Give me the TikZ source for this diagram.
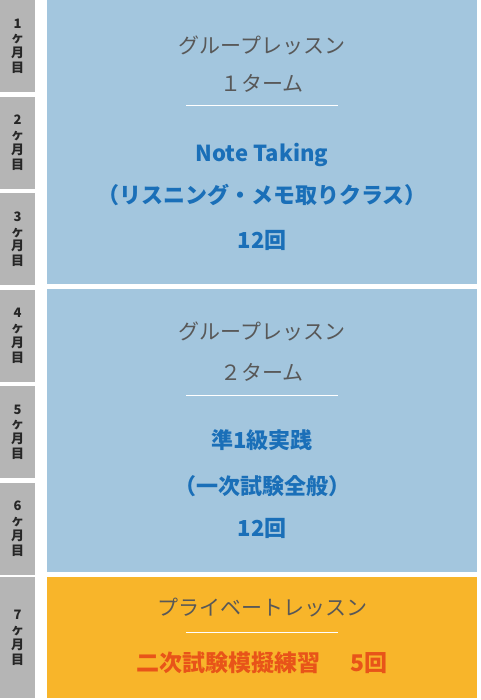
\documentclass[tikz,border=0pt]{standalone}
\usepackage{fontspec}
\setmainfont{Noto Sans CJK JP}
\newfontfamily\jp{Noto Sans CJK JP}
\definecolor{graybox}{HTML}{B5B5B5}
\definecolor{bluebox}{HTML}{A3C6DE}
\definecolor{orangebox}{HTML}{F8B52A}
\definecolor{graytext}{HTML}{585858}
\definecolor{bluetext}{HTML}{1A6FB8}
\definecolor{redtext}{HTML}{E85419}
\tikzset{
  month/.style={fill=graybox, draw=none, minimum width=35pt, inner sep=0pt, anchor=north west,
    label={[font=\jp\bfseries\fontsize{13}{14.8}\selectfont, align=center, text=black!85]center:#1}},
  panel/.style={draw=none, minimum width=430pt, inner sep=0pt, anchor=north west},
  head/.style={font=\jp\fontsize{21}{24}\selectfont, text=graytext},
  bluet/.style={font=\jp\bfseries\fontsize{22}{26}\selectfont, text=bluetext},
  redt/.style={font=\jp\bfseries\fontsize{23}{27}\selectfont, text=redtext},
  sep/.style={draw=white, line width=1pt}
}
\begin{document}
\begin{tikzpicture}[x=1pt,y=-1pt]
\useasboundingbox (0,0) rectangle (480,700);
\fill[white] (0,0) rectangle (480,700);
% month boxes
\node[month={1\\ヶ\\月\\目}, minimum height=92pt] (m1) at (0,0) {};
\node[month={2\\ヶ\\月\\目}, minimum height=92pt] (m2) at (0,96.5) {};
\node[month={3\\ヶ\\月\\目}, minimum height=92pt] (m3) at (0,193) {};
\node[month={4\\ヶ\\月\\目}, minimum height=92pt] (m4) at (0,289.5) {};
\node[month={5\\ヶ\\月\\目}, minimum height=92pt] (m5) at (0,386) {};
\node[month={6\\ヶ\\月\\目}, minimum height=92pt] (m6) at (0,482.5) {};
\node[month={7\\ヶ\\月\\目}, minimum height=121pt] (m7) at (0,577) {};
% panels
\node[panel, fill=bluebox, minimum height=284pt] (p1) at (47,0) {};
\node[panel, fill=bluebox, minimum height=283pt] (p2) at (47,289) {};
\node[panel, fill=orangebox, minimum height=121pt] (p3) at (47,577) {};
% panel 1
\node[head] (a1) at (262,45) {グループレッスン};
\node[head] (a2) at (262,83) {１ターム};
\coordinate (l1a) at (186,106); \coordinate (l1b) at (338,106);
\draw[sep] (l1a) -- (l1b);
\node[bluet] (a3) at (262,155) {Note Taking};
\node[bluet] (a4) at (262,195) {（リスニング・メモ取りクラス）};
\node[bluet] (a5) at (262,240) {12回};
% panel 2
\node[head] (b1) at (262,331) {グループレッスン};
\node[head] (b2) at (262,372) {２ターム};
\coordinate (l2a) at (186,395); \coordinate (l2b) at (338,395);
\draw[sep] (l2a) -- (l2b);
\node[bluet] (b3) at (262,440) {準1級実践};
\node[bluet] (b4) at (262,486) {（一次試験全般）};
\node[bluet] (b5) at (262,528) {12回};
% panel 3
\node[head] (c1) at (262,608) {プライベートレッスン};
\coordinate (l3a) at (186,632); \coordinate (l3b) at (338,632);
\draw[sep] (l3a) -- (l3b);
\node[redt] (c2) at (262,663) {二次試験模擬練習\hspace{1.3em}5回};
\end{tikzpicture}
\end{document}
